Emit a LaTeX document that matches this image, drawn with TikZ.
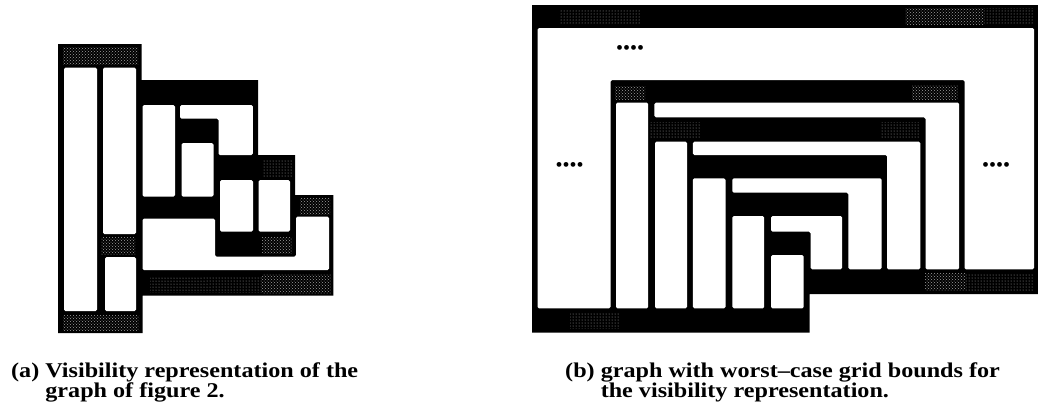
\documentclass[tikz,border=0pt]{standalone}
\usepackage{fontspec}
\setmainfont{Liberation Serif}
\newfontfamily\capfont[FakeStretch=1.15]{Liberation Serif}
\usetikzlibrary{patterns}

\begin{document}
\begin{tikzpicture}[x=1pt,y=-1pt,
  ink/.style={fill=black},
  hole/.style={fill=white, rounded corners=1.5pt},
  stipple/.style={pattern=crosshatch dots, pattern color=gray!75},
  faint/.style={pattern=dots, pattern color=gray!70},
  dotrow/.style={inner sep=0pt, font=\fontsize{20}{20}\selectfont},
  caption/.style={anchor=base west, inner sep=0pt,
    font=\capfont\bfseries\fontsize{21}{21}\selectfont}]

\useasboundingbox (0,0) rectangle (1038,416);

% ---------- (a) visibility representation ----------
% black body: vertex bars and edge borders
\fill[ink] (58,44) -- (141.7,44) -- (141.7,80) -- (258,80) -- (258,155)
  -- (295,155) -- (295,195) -- (333.3,195) -- (333.3,295.5) -- (142.5,295.5)
  -- (142.5,333) -- (58,333) -- cycle;
% halftone on the vertex bars
\fill[stipple] (63,47) rectangle (138,64);
\fill[stipple] (101,237) rectangle (135,254);
\fill[stipple] (63,315) rectangle (139,330);
\fill[stipple] (262,274) rectangle (331,293);
\fill[faint] (150,276) rectangle (262,292);
\fill[stipple] (300,198) rectangle (330,214);
\fill[stipple] (262,237) rectangle (292,253);
\fill[faint] (262,160) rectangle (292,176);
% edges (white boxes)
\fill[hole] (64,67.5) rectangle (97,311);
\fill[hole] (103,67.5) rectangle (136,234);
\fill[hole] (105,257) rectangle (136,311);
\fill[hole] (142.5,105) rectangle (175,196.7);
\fill[hole] (180,105) -- (252.8,105) -- (252.8,155) -- (218.5,155)
  -- (218.5,118.5) -- (180,118.5) -- cycle;
\fill[hole] (181.5,143) rectangle (213.5,196.7);
\fill[hole] (220,180) rectangle (253,231.7);
\fill[hole] (258.5,180) rectangle (290,231.7);
\fill[hole] (142.5,218.5) -- (215,218.5) -- (215,256.7) -- (296,256.7)
  -- (296,216.7) -- (329,216.7) -- (329,270) -- (142.5,270) -- cycle;

% ---------- (b) worst-case grid bounds ----------
\fill[ink] (532,5) -- (1038,5) -- (1038,294) -- (809.5,294) -- (809.5,332.7)
  -- (532,332.7) -- cycle;
% halftone on the vertex bars
\fill[stipple] (905,8) rectangle (985,24);
\fill[faint] (985,8) rectangle (1034,24);
\fill[faint] (560,10) rectangle (640,24);
\fill[stipple] (615,86) rectangle (645,99);
\fill[stipple] (912,85) rectangle (958,99);
\fill[faint] (650,122) rectangle (700,137);
\fill[faint] (880,122) rectangle (920,137);
\fill[stipple] (925,273) rectangle (965,290);
\fill[faint] (965,273) rectangle (1034,290);
\fill[faint] (570,313) rectangle (620,328);
% edges (white boxes)
\fill[hole] (537.5,28) -- (1034,28) -- (1034,269.3) -- (964.5,269.3)
  -- (964.5,80) -- (610.5,80) -- (610.5,308.3) -- (537.5,308.3) -- cycle;
\fill[hole] (616,102.7) rectangle (648.2,308.3);
\fill[hole] (654.4,102.7) -- (959.2,102.7) -- (959.2,269.3) -- (925.5,269.3)
  -- (925.5,117.3) -- (654.4,117.3) -- cycle;
\fill[hole] (655,141.7) rectangle (687,308.3);
\fill[hole] (692.9,141.7) -- (920.4,141.7) -- (920.4,269.3) -- (887,269.3)
  -- (887,155) -- (692.9,155) -- cycle;
\fill[hole] (692.9,178.3) rectangle (725.5,308.3);
\fill[hole] (732.3,178.3) -- (881.6,178.3) -- (881.6,269.3) -- (848.3,269.3)
  -- (848.3,192.7) -- (732.3,192.7) -- cycle;
\fill[hole] (732.3,216) rectangle (764.2,308.3);
\fill[hole] (771,216) -- (842,216) -- (842,269.3) -- (810.6,269.3)
  -- (810.6,231.7) -- (771,231.7) -- cycle;
\fill[hole] (771,255) rectangle (803.7,308.3);

% elided parts of the construction
\node[dotrow] (dotsTop) at (630,50) {••••};
\node[dotrow] (dotsLeft) at (569.5,167) {••••};
\node[dotrow] (dotsRight) at (996,166.5) {••••};

% ---------- captions ----------
\node[caption] (capA1) at (11,377) {(a) Visibility representation of the};
\node[caption] (capA2) at (11,397) {\hphantom{(a)\ }graph of figure 2.};
\node[caption] (capB1) at (565,377) {(b) graph with worst–case grid bounds for};
\node[caption] (capB2) at (565,397) {\hphantom{(b)\ }the visibility representation.};
\end{tikzpicture}
\end{document}
